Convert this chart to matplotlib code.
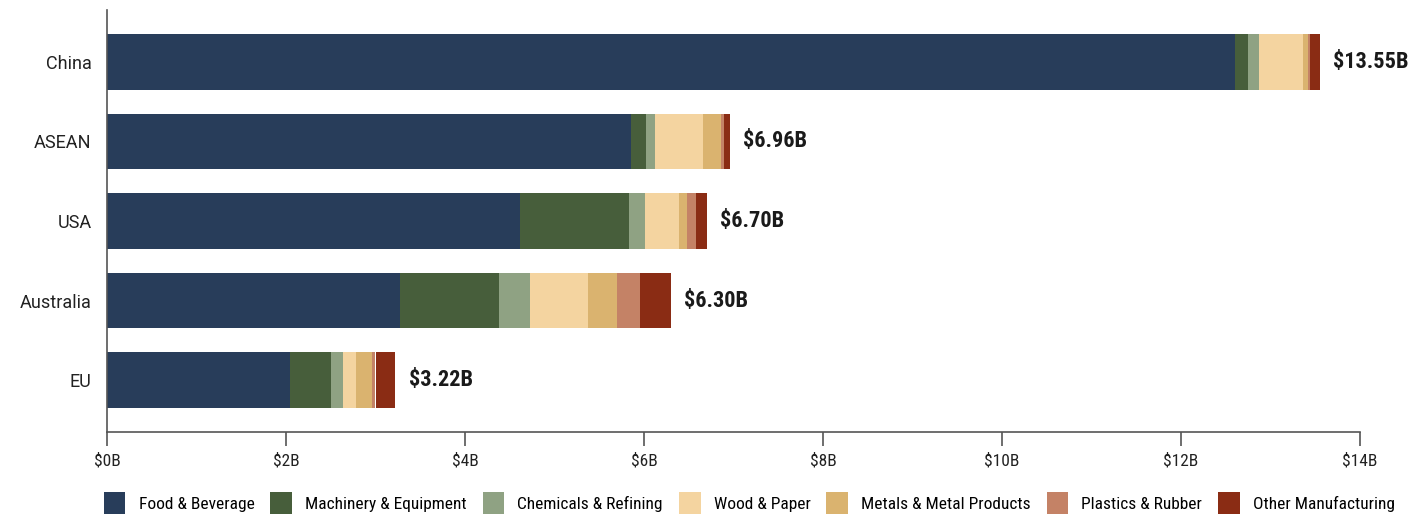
import matplotlib
matplotlib.use("Agg")
from matplotlib import pyplot as plt
from matplotlib import font_manager
import numpy as np

regions = ["China", "ASEAN", "USA", "Australia", "EU"]
sectors = ["Food & Beverage", "Machinery & Equipment", "Chemicals & Refining",
           "Wood & Paper", "Metals & Metal Products", "Plastics & Rubber",
           "Other Manufacturing"]

# values in $B, one list per sector (order follows regions)
food = [12.60, 5.86, 4.61, 3.27, 2.05]
machinery = [0.15, 0.16, 1.22, 1.11, 0.45]
chemicals = [0.12, 0.10, 0.18, 0.35, 0.14]
wood = [0.49, 0.54, 0.38, 0.64, 0.14]
metals = [0.06, 0.20, 0.09, 0.33, 0.18]
plastics = [0.02, 0.03, 0.10, 0.25, 0.04]
other = [0.11, 0.07, 0.12, 0.35, 0.22]
totals = [13.55, 6.96, 6.70, 6.30, 3.22]

colors = ["#283d5a", "#475e3b", "#8fa283", "#f4d4a0", "#dab36f", "#c48266", "#8a2c14"]

names = {f.name for f in font_manager.fontManager.ttflist}
narrow = "Roboto"
for cand in ["Roboto Condensed", "Archivo Narrow", "Barlow Semi Condensed", "Liberation Sans Narrow"]:
    if cand in names:
        narrow = cand
        break
plt.rcParams['font.family'] = ['Roboto', 'DejaVu Sans']

fig = plt.figure(figsize=(14.14, 5.15), dpi=100)
ax = fig.add_axes([107 / 1414, 83 / 515, 1253 / 1414, 422 / 515])

y = np.arange(len(regions))
left = np.zeros(len(regions))
for vals, name, c in zip([food, machinery, chemicals, wood, metals, plastics, other], sectors, colors):
    ax.barh(y, vals, left=left, height=0.7, color=c, label=name)
    left += np.array(vals)

for yi, t in zip(y, totals):
    ax.text(t + 0.15, yi, f"${t:.2f}B", va="center", ha="left", fontsize=16,
            fontweight="bold", family=narrow, color="#1a1a1a")

ax.set_xlim(0, 14)
ax.set_ylim(len(regions) - 0.35, -0.65)
ax.set_yticks(y)
ax.set_yticklabels(regions, fontsize=13, color="#222222")
ax.tick_params(axis="y", length=0, pad=11)
ax.set_xticks(np.arange(0, 15, 2))
ax.set_xticklabels([f"${v}B" for v in range(0, 15, 2)], family=narrow, fontsize=12.5, color="#222222")
ax.tick_params(axis="x", length=10, width=1.2, color="#555555", pad=5)
for s in ["top", "right"]:
    ax.spines[s].set_visible(False)
for s in ["left", "bottom"]:
    ax.spines[s].set_color("#555555")
    ax.spines[s].set_linewidth(1.2)

fig.legend(loc="center", bbox_to_anchor=(0.530, 0.023), ncol=7, frameon=False,
           prop={"family": narrow, "size": 12.5}, handlelength=1.25, handleheight=1.6,
           columnspacing=0.92, handletextpad=0.75)

fig.savefig("out.png", dpi=100)
